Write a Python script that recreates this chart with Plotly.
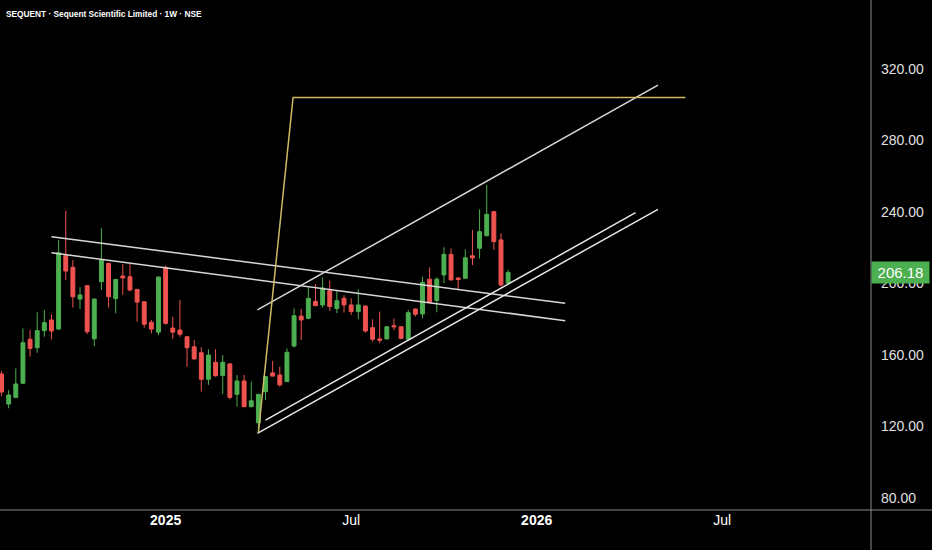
import plotly.graph_objects as go
import pandas as pd

header = "SEQUENT · Sequent Scientific Limited · 1W · NSE"

# weekly bars, the first one opens the week of 29 Jul 2024
first_week = "2024-07-29"
opens = [149.4, 132.6, 136.3, 144.2, 168.8, 164.1, 173.6, 179.6, 174.5, 215.6,
         209.1, 191.3, 198.8, 169.1, 201.0, 211.3, 191.5, 204.2, 203.8, 196.7,
         189.8, 178.3, 172.8, 209.1, 175.1, 174.0, 170.2, 164.6, 161.3, 146.4,
         155.9, 148.6, 155.0, 138.0, 145.5, 131.1, 122.1, 139.5, 150.0, 148.8,
         145.1, 165.0, 181.8, 180.5, 190.0, 188.0, 196.0, 186.0, 191.7, 188.0,
         184.3, 187.4, 175.3, 169.0, 169.0, 176.4, 175.8, 168.8, 185.7, 183.0,
         202.4, 190.5, 204.8, 216.3, 203.1, 202.9, 215.5, 219.7, 226.7, 240.2,
         224.4, 200.2]
highs = [151.0, 140.4, 152.5, 174.9, 174.0, 183.9, 185.2, 182.8, 224.3, 240.6,
         213.1, 197.9, 199.0, 191.5, 230.9, 211.5, 202.5, 210.9, 210.9, 197.0,
         190.0, 179.6, 204.0, 210.0, 181.4, 190.8, 170.5, 168.4, 164.3, 163.2,
         163.2, 160.0, 155.5, 148.8, 148.8, 145.1, 138.3, 148.2, 156.8, 153.5,
         163.7, 186.1, 185.7, 197.9, 199.7, 203.3, 201.6, 195.8, 193.5, 191.7,
         196.7, 187.5, 180.0, 184.3, 176.2, 180.5, 176.0, 185.2, 186.1, 203.8,
         209.1, 203.5, 220.3, 219.7, 203.3, 219.1, 229.9, 241.5, 255.1, 240.4,
         228.1, 207.7]
lows = [137.0, 130.2, 135.8, 143.8, 159.1, 161.3, 170.2, 168.8, 174.0, 202.0,
        186.5, 185.8, 171.7, 165.0, 196.4, 186.5, 183.3, 193.6, 195.5, 178.6,
        175.3, 172.1, 171.1, 177.0, 169.0, 170.2, 153.5, 157.5, 139.5, 143.3,
        147.9, 138.2, 135.2, 131.1, 130.8, 130.8, 117.1, 134.8, 148.0, 142.3,
        144.9, 164.3, 168.4, 180.0, 187.3, 186.5, 184.7, 183.4, 183.8, 182.4,
        180.0, 172.5, 167.5, 166.6, 168.9, 173.9, 169.0, 168.1, 181.5, 180.5,
        189.0, 183.9, 200.2, 201.8, 196.7, 202.7, 210.3, 213.9, 226.5, 218.8,
        198.3, 199.2]
closes = [139.3, 137.6, 143.8, 166.9, 163.7, 173.6, 178.1, 173.4, 217.2, 207.0,
          192.6, 193.6, 173.0, 191.3, 213.1, 192.6, 202.3, 203.1, 196.4, 189.6,
          177.2, 174.5, 203.6, 177.7, 172.8, 171.6, 164.1, 157.8, 146.4, 160.0,
          148.4, 155.9, 136.3, 145.5, 131.1, 134.4, 138.0, 147.9, 148.2, 143.3,
          161.5, 182.0, 179.6, 191.7, 187.6, 197.5, 187.1, 190.4, 188.0, 184.3,
          188.0, 173.4, 168.8, 168.3, 175.8, 175.8, 169.3, 183.7, 182.8, 200.6,
          189.3, 202.4, 216.3, 202.0, 202.2, 214.4, 214.3, 229.0, 238.7, 223.4,
          199.2, 206.18]
weeks = pd.date_range(first_week, periods=len(opens), freq="7D")

price_ticks = [80, 120, 160, 200, 240, 280, 320]
time_ticks = ["2025-01-06", "2025-07-07", "2026-01-05", "2026-07-06"]
time_labels = ["<b>2025</b>", "Jul", "<b>2026</b>", "Jul"]

# hand drawn lines on the chart: (date, price)
falling_top = [("2024-09-16", 226.2), ("2026-02-02", 188.9)]
falling_low = [("2024-09-16", 217.2), ("2026-02-02", 179.2)]
channel_top = [("2025-04-06", 185.2), ("2026-05-04", 311.0)]
channel_mid = [("2025-04-14", 123.6), ("2026-04-12", 239.6)]
channel_low = [("2025-04-06", 116.2), ("2026-05-04", 241.5)]
target_path = [("2025-04-07", 116.4), ("2025-05-11", 304.0), ("2026-05-31", 304.0)]

UP = "#4caf50"
DOWN = "#ef5350"
GRID = "#8a8a8a"

fig = go.Figure()

fig.add_trace(go.Candlestick(
    x=weeks, open=opens, high=highs, low=lows, close=closes,
    increasing=dict(line=dict(color=UP, width=1), fillcolor=UP),
    decreasing=dict(line=dict(color=DOWN, width=1), fillcolor=DOWN),
    hoverinfo="skip", showlegend=False))

for pts, colour in [(falling_top, "#d8d8d8"), (falling_low, "#d8d8d8"),
                    (channel_top, "#d8d8d8"), (channel_mid, "#e6e6e6"),
                    (channel_low, "#e6e6e6"), (target_path, "#cdbb63")]:
    fig.add_trace(go.Scatter(
        x=[p[0] for p in pts], y=[p[1] for p in pts], mode="lines",
        line=dict(color=colour, width=1.5), hoverinfo="skip", showlegend=False))

last = closes[-1]
fig.add_annotation(x=1, xref="paper", y=last, yref="y", xanchor="left",
                   text=f"{last:.2f}", showarrow=False, bgcolor=UP,
                   font=dict(color="white", size=15), width=53, borderpad=2)

fig.add_annotation(x=0.005, xref="paper", y=1, yref="paper", yshift=-7,
                   xanchor="left", yanchor="top", showarrow=False,
                   text=f"<b>{header}</b>", font=dict(color="white", size=8.3))

# axis border lines run through the whole window like on TradingView
fig.add_shape(type="line", xref="paper", yref="paper", x0=0, x1=1.08, y0=0, y1=0,
              line=dict(color=GRID, width=1))
fig.add_shape(type="line", xref="paper", yref="paper", x0=1, x1=1, y0=-0.1, y1=1,
              line=dict(color=GRID, width=1))

fig.update_layout(
    width=932, height=550,
    margin=dict(l=0, r=61, t=0, b=40),
    paper_bgcolor="black", plot_bgcolor="black",
    boxgap=0.22,
    font=dict(family="Liberation Sans, Arial, sans-serif", color="#e0e0e0", size=14),
    xaxis=dict(range=["2024-07-27 12:00", "2026-11-29"], rangeslider=dict(visible=False),
               tickvals=time_ticks, ticktext=time_labels, showgrid=False,
               zeroline=False, ticks="", tickfont=dict(color="white", size=14)),
    yaxis=dict(range=[73.3, 358.6], side="right", tickvals=price_ticks,
               ticktext=[f"{v:.2f}" for v in price_ticks], showgrid=False,
               zeroline=False, ticks="", ticklabelstandoff=9),
)

# the page should have no white border around the chart
fig.write_html("out.html", config={"displayModeBar": False},
               post_script="document.body.style.margin='0';"
                           "document.body.style.background='black';")
